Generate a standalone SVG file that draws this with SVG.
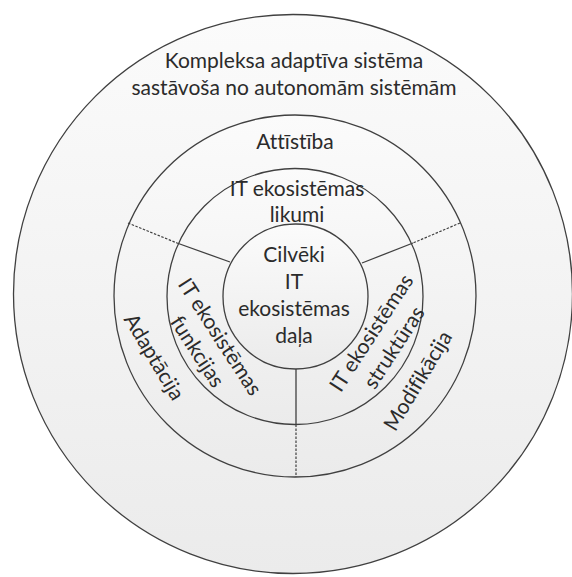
<svg xmlns="http://www.w3.org/2000/svg" width="572" height="577" viewBox="0 0 572 577">
  <defs>
    <linearGradient id="ringFill" x1="0" y1="0" x2="0" y2="1">
      <stop offset="0" stop-color="#fbfbfb"/>
      <stop offset="1" stop-color="#ebebeb"/>
    </linearGradient>
    <style>
      .ring { fill: url(#ringFill); stroke: #404040; stroke-width: 1.3; }
      .div { fill: none; stroke: #404040; stroke-width: 1.3; }
      .dash { fill: none; stroke: #404040; stroke-width: 1.2; stroke-dasharray: 2.5 1.5; }
      .lbl { font-family: Lato, "Liberation Sans", sans-serif; font-size: 21px; fill: #2b2b2b; text-anchor: middle; font-variant-ligatures: none; }
    </style>
  </defs>
  <rect width="572" height="577" fill="#ffffff"/>

  <!-- concentric rings, outermost first -->
  <g id="outer">
    <circle class="ring" cx="293" cy="294" r="279.5"/>
    <text class="lbl" x="294" y="68">Kompleksa adaptīva sistēma</text>
    <text class="lbl" x="294" y="95">sastāvoša no autonomām sistēmām</text>
  </g>
  <g id="middle">
    <circle class="ring" cx="295" cy="296" r="181"/>
  </g>
  <g id="inner">
    <circle class="ring" cx="295" cy="296.5" r="128"/>
  </g>
  <g id="core">
    <circle class="ring" cx="295.5" cy="296.5" r="72.5"/>
  </g>

  <!-- sector dividers -->
  <g id="connectors">
    <line class="dash" x1="128" y1="223" x2="177" y2="243"/>
    <line class="div" x1="177" y1="243" x2="230" y2="262"/>
    <line class="dash" x1="460" y1="223" x2="413" y2="243"/>
    <line class="div" x1="413" y1="243" x2="362" y2="263"/>
    <line class="div" x1="296" y1="369" x2="296" y2="424.5"/>
    <line class="dash" x1="296" y1="424.5" x2="296" y2="477"/>
  </g>

  <g id="attistiba">
    <text class="lbl" x="295" y="149">Attīstība</text>
  </g>
  <g id="likumi">
    <text class="lbl" x="297" y="196">IT ekosistēmas</text>
    <text class="lbl" x="297" y="222">likumi</text>
  </g>
  <g id="cilveki">
    <text class="lbl" x="294" y="262">Cilvēki</text>
    <text class="lbl" x="294" y="289">IT</text>
    <text class="lbl" x="294" y="316">ekosistēmas</text>
    <text class="lbl" x="294" y="343">daļa</text>
  </g>
  <g id="adaptacija" transform="translate(154 357) rotate(59)">
    <text class="lbl" x="0" y="7">Adaptācija</text>
  </g>
  <g id="funkcijas" transform="translate(209 344) rotate(57)">
    <text class="lbl" x="0" y="-6">IT ekosistēmas</text>
    <text class="lbl" x="0" y="21">funkcijas</text>
  </g>
  <g id="strukturas" transform="translate(382.5 340) rotate(-57)">
    <text class="lbl" x="0" y="-6">IT ekosistēmas</text>
    <text class="lbl" x="0" y="21">struktūras</text>
  </g>
  <g id="modifikacija" transform="translate(418 381) rotate(-59)">
    <text class="lbl" x="0" y="7">Modifikācija</text>
  </g>
</svg>
